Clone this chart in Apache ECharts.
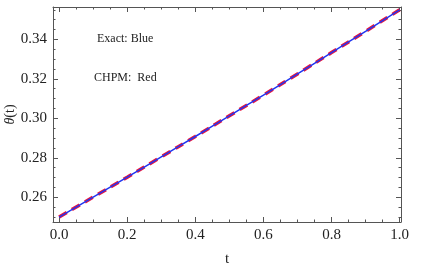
<!DOCTYPE html>
<html><head><meta charset="utf-8">
<script src="https://cdn.jsdelivr.net/npm/echarts@6/dist/echarts.min.js"></script>
<style>html,body{margin:0;padding:0;background:#fff}#c{width:423px;height:266px}</style>
</head><body><div id="c"></div>
<script>
const tValues = [0.0, 0.1, 0.2, 0.3, 0.4, 0.5, 0.6, 0.7, 0.8, 0.9, 1.0];
const exactValues = [0.2500, 0.2601, 0.2702, 0.2805, 0.2908, 0.3013, 0.3118, 0.3225, 0.3333, 0.3441, 0.3550];
const chpmValues = [0.2500, 0.2601, 0.2702, 0.2805, 0.2908, 0.3013, 0.3118, 0.3225, 0.3333, 0.3441, 0.3550];
const xMajor = [0, 0.2, 0.4, 0.6, 0.8, 1.0];
const xMinor = [0.05,0.1,0.15,0.25,0.3,0.35,0.45,0.5,0.55,0.65,0.7,0.75,0.85,0.9,0.95];
const yMajor = [0.26, 0.28, 0.30, 0.32, 0.34];
const yMinor = [0.25,0.255,0.265,0.27,0.275,0.285,0.29,0.295,0.305,0.31,0.315,0.325,0.33,0.335,0.345,0.35,0.355];

const font = 'Liberation Serif';
const frame = '#555';
const xr = {min: -0.018, max: 1.004};
const yr = {min: 0.2475, max: 0.3564};

function axis(pos, range, major, minor, labels, fmt, isMinor) {
  return {
    type: 'value', position: pos, min: range.min, max: range.max,
    splitLine: {show: false},
    axisLine: {show: !isMinor, onZero: false, lineStyle: {color: frame, width: 1}},
    axisTick: {show: true, inside: true, length: isMinor ? 2.5 : 5,
      customValues: isMinor ? minor : major, lineStyle: {color: frame, width: 1}},
    axisLabel: labels ? {show: true, customValues: major, formatter: v => v.toFixed(fmt),
      fontFamily: font, fontSize: 15, color: '#222', margin: 6} : {show: false}
  };
}

const xAxes = [
  Object.assign(axis('bottom', xr, xMajor, xMinor, 'x', 1, false), {
    name: 't', nameLocation: 'middle', nameGap: 30, nameMoveOverlap: false,
    nameTextStyle: {fontFamily: font, fontSize: 15, color: '#222'}}),
  axis('bottom', xr, xMajor, xMinor, null, 1, true),
  axis('top', xr, xMajor, xMinor, null, 1, false),
  axis('top', xr, xMajor, xMinor, null, 1, true)
];
const yAxes = [
  Object.assign(axis('left', yr, yMajor, yMinor, 'y', 2, false), {
    name: '{i|θ}(t)', nameLocation: 'middle', nameGap: 36, nameRotate: 90, nameMoveOverlap: false,
    nameTextStyle: {fontFamily: font, fontSize: 14, color: '#222',
      rich: {i: {fontFamily: font, fontStyle: 'italic', fontSize: 14, color: '#222'}}}}),
  axis('left', yr, yMajor, yMinor, null, 2, true),
  axis('right', yr, yMajor, yMinor, null, 2, false),
  axis('right', yr, yMajor, yMinor, null, 2, true)
];

const chart = echarts.init(document.getElementById('c'), null, {renderer: 'canvas'});
chart.setOption({
  animation: false,
  backgroundColor: '#fff',
  grid: {left: 53, top: 7, right: 22, bottom: 44, containLabel: false, outerBoundsMode: 'none'},
  xAxis: xAxes,
  yAxis: yAxes,
  graphic: [
    {type: 'text', left: 97, top: 33, style: {text: 'Exact: Blue', font: '12px "Liberation Serif"', fill: '#222'}},
    {type: 'text', left: 94, top: 72, style: {text: 'CHPM:  Red', font: '12px "Liberation Serif"', fill: '#222'}}
  ],
  series: [
    {name: 'CHPM', type: 'line', data: tValues.map((t, i) => [t, chpmValues[i]]),
      showSymbol: false, smooth: true, lineStyle: {color: '#e8173e', width: 3.5, type: [9, 6]}, z: 2},
    {name: 'Exact', type: 'line', data: tValues.map((t, i) => [t, exactValues[i]]),
      showSymbol: false, smooth: true, lineStyle: {color: '#2036f0', width: 1.5}, z: 3}
  ]
});
</script></body></html>
